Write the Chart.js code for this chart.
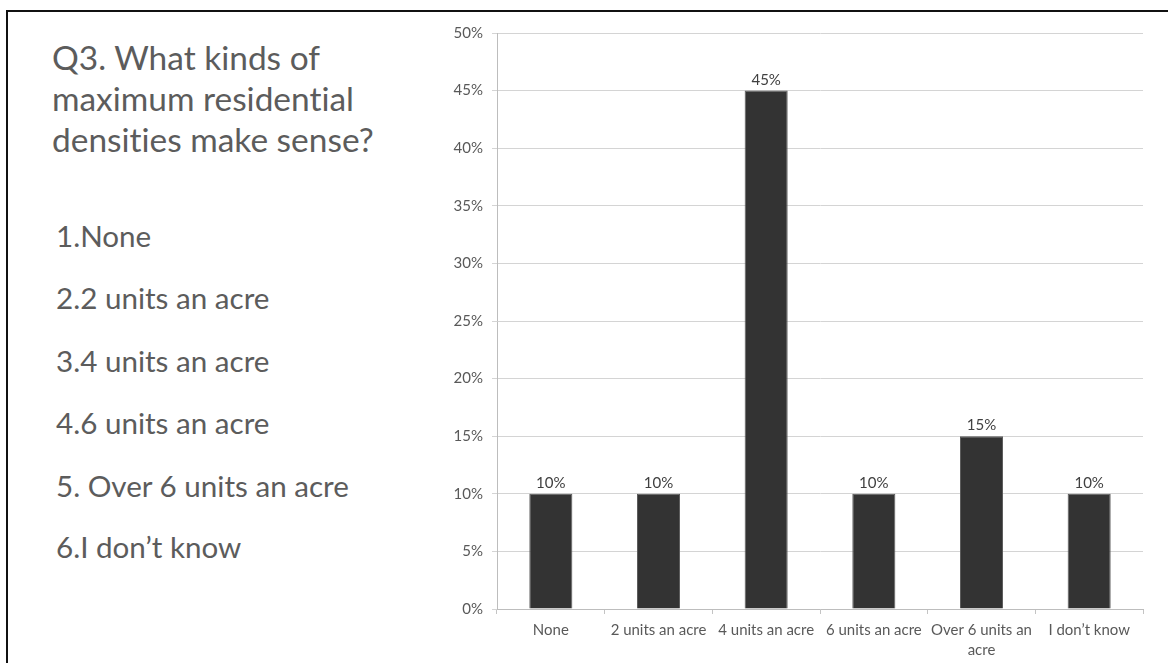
<!DOCTYPE html>
<html><head><meta charset="utf-8">
<script src="https://cdn.jsdelivr.net/npm/chart.js@4.4.0/dist/chart.umd.min.js"></script>
<style>
html,body{margin:0;padding:0;background:#fff;}
body{width:1168px;height:663px;position:relative;overflow:hidden;font-family:Lato,"Open Sans",sans-serif;}
#frameTop{position:absolute;left:6px;top:10px;width:1162px;height:2px;background:#111;}
#frameLeft{position:absolute;left:6px;top:10px;width:2px;height:653px;background:#111;}
.t{position:absolute;white-space:nowrap;color:#5c5c5c;line-height:1.2;font-family:Lato,"Open Sans",sans-serif;font-variant-ligatures:none;font-feature-settings:"liga" 0,"clig" 0;}
#chartWrap{position:absolute;left:420px;top:14px;width:748px;height:649px;}
</style></head>
<body>
<div id="frameTop"></div><div id="frameLeft"></div>
<div id="text"></div>
<div id="chartWrap"><canvas id="c" width="748" height="649"></canvas></div>
<script>
const titleLines = ["Q3. What kinds of", "maximum residential", "densities make sense?"];
const listItems = ["1.None", "2.2 units an acre", "3.4 units an acre", "4.6 units an acre", "5. Over 6 units an acre", "6.I don’t know"];
const categories = ["None", "2 units an acre", "4 units an acre", "6 units an acre", ["Over 6 units an", "acre"], "I don’t know"];
const values = [10, 10, 45, 10, 15, 10];
const yMin = 0, yMax = 50, yStep = 5;

function placeLines(lines, left, baselines, fitIndex, fitWidth) {
  const host = document.getElementById('text');
  const els = lines.map(s => {
    const d = document.createElement('div');
    d.className = 't';
    d.style.left = left + 'px';
    d.style.top = '0px';
    d.style.fontSize = '100px';
    const span = document.createElement('span');
    span.textContent = s;
    const mk = document.createElement('span');
    mk.style.cssText = 'display:inline-block;width:0;height:0;';
    d.appendChild(span); d.appendChild(mk);
    host.appendChild(d);
    return {d, span, mk};
  });
  const w = els[fitIndex].span.getBoundingClientRect().width;
  const size = 100 * fitWidth / w;
  els.forEach((e, i) => {
    e.d.style.fontSize = size + 'px';
    const off = e.mk.offsetTop;
    e.d.style.top = (baselines[i] - off) + 'px';
  });
}
placeLines(titleLines, 52, [70, 111, 152], 1, 302);
placeLines(listItems, 56, [247, 309, 372, 434, 497, 558], 4, 293);

const mctx = document.createElement('canvas').getContext('2d');
mctx.font = '100px Lato';
const fx = 100 * 101 / mctx.measureText('Over 6 units an').width;
const fn = 100 * 29.5 / mctx.measureText('10%').width;

const labelPlugin = {
  id: 'barLabels',
  afterDatasetsDraw(chart) {
    const ctx = chart.ctx;
    const meta = chart.getDatasetMeta(0);
    ctx.save();
    ctx.fillStyle = '#404040';
    ctx.font = fn + 'px Lato';
    ctx.textAlign = 'center';
    ctx.textBaseline = 'alphabetic';
    meta.data.forEach((el, i) => {
      ctx.fillText(values[i] + '%', el.x, el.y - 6);
    });
    ctx.restore();
  }
};

new Chart(document.getElementById('c'), {
  type: 'bar',
  data: {
    labels: categories,
    datasets: [{
      data: values,
      backgroundColor: '#333333',
      borderColor: '#5a5a5a',
      borderWidth: 1,
      categoryPercentage: 0.4,
      barPercentage: 1
    }]
  },
  options: {
    responsive: false,
    animation: false,
    devicePixelRatio: 1,
    layout: {padding: {top: 19, right: 25, bottom: 0, left: 0}},
    plugins: {legend: {display: false}, tooltip: {enabled: false}},
    scales: {
      x: {
        grid: {display: true, drawOnChartArea: false, drawTicks: true, tickLength: 5, color: '#c4c4c4', offset: true},
        border: {color: '#bdbdbd', width: 1},
        ticks: {color: '#595959', font: {family: 'Lato', size: fx, lineHeight: 20 / fx}, padding: 6, maxRotation: 0, minRotation: 0, autoSkip: false},
        afterFit(s) { s.height = 54; }
      },
      y: {
        min: yMin, max: yMax,
        ticks: {stepSize: yStep, callback: v => v + '%', color: '#595959', font: {family: 'Lato', size: fn}, padding: 9},
        grid: {color: '#d4d4d4', tickLength: 5},
        border: {color: '#bdbdbd', width: 1},
        afterFit(s) { s.width = 77; }
      }
    }
  },
  plugins: [labelPlugin]
});
</script>
</body></html>
